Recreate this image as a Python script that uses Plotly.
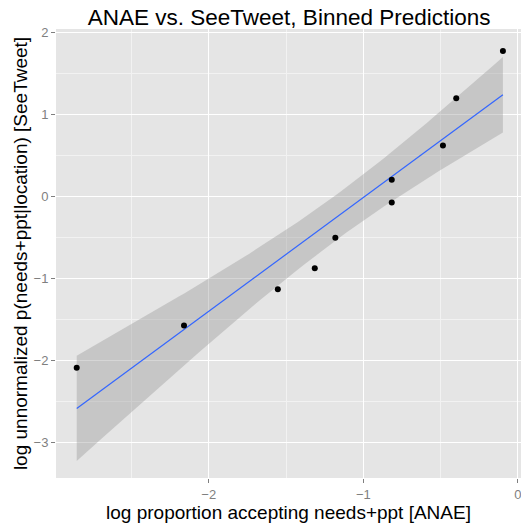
import numpy as np
import plotly.graph_objects as go

# Binned predictions
anae_x = [-2.854, -2.160, -1.553, -1.314, -1.181, -0.816, -0.816, -0.485, -0.399, -0.097]
seetweet_y = [-2.086, -1.571, -1.129, -0.871, -0.499, -0.070, 0.209, 0.626, 1.202, 1.779]

title_text = "ANAE vs. SeeTweet, Binned Predictions"
x_title = "log proportion accepting needs+ppt [ANAE]"
y_title = "log unnormalized p(needs+ppt|location) [SeeTweet]"

x_ticks = [-2, -1, 0]
y_ticks = [-3, -2, -1, 0, 1, 2]

# linear fit with 95% confidence band (like geom_smooth(method="lm"))
x = np.array(anae_x)
y = np.array(seetweet_y)
n = len(x)
b1, b0 = np.polyfit(x, y, 1)
resid = y - (b0 + b1 * x)
s = np.sqrt(np.sum(resid ** 2) / (n - 2))
t_crit = 2.306  # t(0.975, df=8)
xs = np.linspace(x.min(), x.max(), 80)
fit = b0 + b1 * xs
se = s * np.sqrt(1.0 / n + (xs - x.mean()) ** 2 / np.sum((x - x.mean()) ** 2))
upper = fit + t_crit * se
lower = fit - t_crit * se

fig = go.Figure()
fig.add_trace(go.Scatter(
    x=np.concatenate([xs, xs[::-1]]), y=np.concatenate([upper, lower[::-1]]),
    fill="toself", fillcolor="rgba(153,153,153,0.4)", line=dict(width=0),
    mode="lines", hoverinfo="skip", showlegend=False))
fig.add_trace(go.Scatter(x=xs, y=fit, mode="lines",
                         line=dict(color="#3366FF", width=1.2), showlegend=False))
fig.add_trace(go.Scatter(x=anae_x, y=seetweet_y, mode="markers",
                         marker=dict(color="black", size=6), showlegend=False))

axis_common = dict(
    showgrid=True, gridcolor="white", gridwidth=1.3,
    zeroline=False, showline=False, automargin=False,
    ticks="outside", ticklen=4, tickcolor="#7f7f7f", tickwidth=1,
    tickfont=dict(size=13, color="#7f7f7f"), ticklabeloverflow="allow",
    minor=dict(showgrid=True, gridcolor="#F2F2F2", gridwidth=0.8),
)

fig.update_layout(
    width=521, height=525,
    margin=dict(l=56, r=0, t=29, b=47),
    paper_bgcolor="white", plot_bgcolor="#E5E5E5",
    font=dict(family="Liberation Sans, Arial, sans-serif", color="black"),
    title=dict(text=title_text, x=0.555, xanchor="center", y=0.967, yanchor="middle",
               font=dict(size=22.5, color="black")),
    xaxis=dict(range=[-2.988, 0.02], tickvals=x_ticks,
               title=dict(text=x_title, font=dict(size=19), standoff=0),
               **axis_common),
    yaxis=dict(range=[-3.43, 2.047], tickvals=y_ticks,
               title=dict(text=y_title, font=dict(size=19), standoff=0),
               **axis_common),
)
fig.update_xaxes(minor=dict(tickvals=[-2.5, -1.5, -0.5]))
fig.update_yaxes(minor=dict(tickvals=[-2.5, -1.5, -0.5, 0.5, 1.5]))

fig.write_html("out.html", config={"displayModeBar": False},
               post_script="document.body.style.margin='0';document.body.style.padding='0';")
